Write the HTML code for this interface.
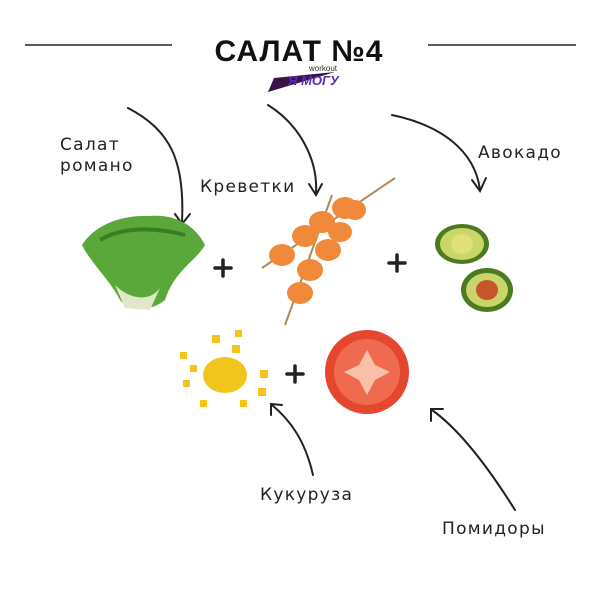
<!DOCTYPE html>
<html><head><meta charset="utf-8"><style>
html,body{margin:0;padding:0;background:#fff}
svg{display:block}
.h{font-family:"DejaVu Sans","Liberation Sans",sans-serif;font-size:17px;fill:#222;letter-spacing:1.3px}
</style></head><body>
<svg width="600" height="600" viewBox="0 0 600 600">
<line x1="25" y1="45" x2="172" y2="45" stroke="#222" stroke-width="1.5"/>
<line x1="428" y1="45" x2="576" y2="45" stroke="#222" stroke-width="1.5"/>
<text x="299" y="61" text-anchor="middle" font-family="Liberation Sans,sans-serif" font-weight="bold" font-size="30" letter-spacing="1" fill="#111">САЛАТ №4</text>
<polygon points="268,92 274,78 335,72" fill="#3a1245"/>
<text x="288" y="85" font-family="Liberation Sans,sans-serif" font-weight="bold" font-style="italic" font-size="13" fill="#5a2ab0">Я МОГУ</text>
<text x="309" y="71" font-family="Liberation Sans,sans-serif" font-size="8" fill="#333">workout</text>
<text class="h" x="60" y="150">Салат</text>
<text class="h" x="60" y="171">романо</text>
<text class="h" x="200" y="192">Креветки</text>
<text class="h" x="478" y="158">Авокадо</text>
<text class="h" x="260" y="500">Кукуруза</text>
<text class="h" x="442" y="534">Помидоры</text>
<g fill="none" stroke="#222" stroke-width="2" stroke-linecap="round">
<path d="M128,108 C170,130 185,160 182,222"/><path d="M175,214 L182,224 L190,214"/>
<path d="M268,105 C300,125 318,160 316,193"/><path d="M309,184 L316,195 L322,184"/>
<path d="M392,115 C440,125 475,150 480,190"/><path d="M472,180 L480,191 L486,178"/>
<path d="M313,475 C305,440 290,420 272,405"/><path d="M271,415 L271,404 L282,405"/>
<path d="M515,510 C490,470 460,430 432,410"/><path d="M431,421 L431,409 L443,409"/>
<path d="M215,268 H231 M223,260 V276" stroke-width="3.5"/>
<path d="M389,263 H405 M397,255 V271" stroke-width="3.5"/>
<path d="M287,374 H303 M295,366 V382" stroke-width="3.5"/>
</g>
<!-- lettuce -->
<path d="M82,245 C95,225 120,215 150,216 C175,214 195,225 205,245 C195,262 175,270 165,300 C150,312 130,312 120,300 C110,280 90,262 82,245Z" fill="#5aa83a"/>
<path d="M100,240 C120,228 150,226 185,235" stroke="#3b7d22" stroke-width="4" fill="none"/>
<path d="M115,285 C130,300 150,302 160,288 L150,310 L125,308Z" fill="#dfe8c8"/>
<!-- shrimp skewer -->
<line x1="262" y1="268" x2="395" y2="178" stroke="#b08a50" stroke-width="2"/>
<line x1="285" y1="325" x2="332" y2="195" stroke="#b08a50" stroke-width="2"/>
<g fill="#f08a3a">
<ellipse cx="282" cy="255" rx="13" ry="11"/><ellipse cx="305" cy="236" rx="13" ry="11"/>
<ellipse cx="322" cy="222" rx="13" ry="11"/><ellipse cx="345" cy="208" rx="13" ry="11"/>
<ellipse cx="300" cy="293" rx="13" ry="11"/><ellipse cx="310" cy="270" rx="13" ry="11"/>
<ellipse cx="328" cy="250" rx="13" ry="11"/><ellipse cx="340" cy="232" rx="12" ry="10"/>
<ellipse cx="355" cy="210" rx="11" ry="10"/>
</g>
<!-- avocado -->
<ellipse cx="462" cy="244" rx="27" ry="20" fill="#4a7a22"/>
<ellipse cx="462" cy="244" rx="22" ry="16" fill="#c8d66a"/>
<ellipse cx="462" cy="244" rx="11" ry="10" fill="#dfe07a"/>
<ellipse cx="487" cy="290" rx="26" ry="22" fill="#4a7a22"/>
<ellipse cx="487" cy="290" rx="21" ry="17" fill="#c9d56a"/>
<ellipse cx="487" cy="290" rx="11" ry="10" fill="#c8552a"/>
<!-- corn -->
<g fill="#f2c51c">
<ellipse cx="225" cy="375" rx="22" ry="18"/>
<rect x="212" y="335" width="8" height="8"/><rect x="232" y="345" width="8" height="8"/>
<rect x="190" y="365" width="7" height="7"/><rect x="183" y="380" width="7" height="7"/>
<rect x="260" y="370" width="8" height="8"/><rect x="258" y="388" width="8" height="8"/>
<rect x="200" y="400" width="7" height="7"/><rect x="240" y="400" width="7" height="7"/>
<rect x="180" y="352" width="7" height="7"/><rect x="235" y="330" width="7" height="7"/>
</g>
<!-- tomato -->
<circle cx="367" cy="372" r="42" fill="#e4462e"/>
<circle cx="367" cy="372" r="33" fill="#f06a50"/>
<path d="M367,350 L375,365 L390,372 L375,380 L367,395 L359,380 L344,372 L359,365Z" fill="#f8c0a8"/>
</svg>
</body></html>
